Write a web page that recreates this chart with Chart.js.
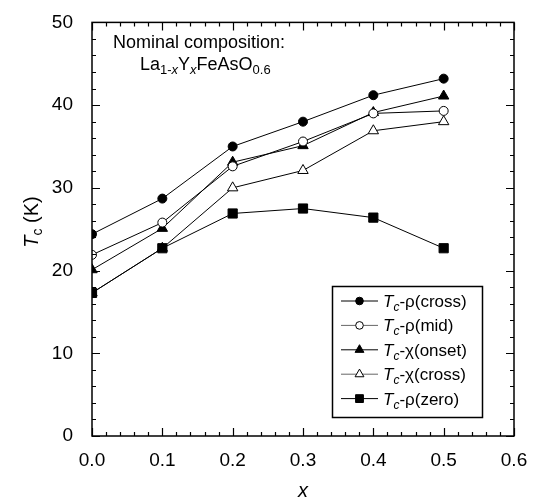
<!DOCTYPE html>
<html>
<head>
<meta charset="utf-8">
<script src="https://cdn.jsdelivr.net/npm/chart.js@4.4.1/dist/chart.umd.min.js"></script>
<style>
  html, body { margin: 0; padding: 0; background: #fff; }
  #wrap { width: 536px; height: 503px; }
</style>
</head>
<body>
<div id="wrap"><canvas id="grafico" width="536" height="503"></canvas></div>
<script>
// valores
const xValues = [0, 0.1, 0.2, 0.3, 0.4, 0.5];
const rhoCross = [24.4, 28.7, 35.0, 38.0, 41.2, 43.2];
const rhoMid = [21.9, 25.8, 32.6, 35.6, 39.0, 39.3];
const chiOnset = [20.1, 25.1, 33.1, 35.1, 39.1, 41.1];
const chiCross = [17.3, 22.7, 30.0, 32.1, 36.9, 38.0];
const rhoZero = [17.3, 22.7, 26.9, 27.5, 26.4, 22.7];

const nombres = ["ρ(cross)", "ρ(mid)", "χ(onset)", "χ(cross)", "ρ(zero)"];
const yTicks = [0, 10, 20, 30, 40, 50];
const xTicks = [0, 0.1, 0.2, 0.3, 0.4, 0.5, 0.6];

const FUENTE = '"Liberation Sans", Arial, sans-serif';

function puntos(ys) {
  return xValues.map((x, i) => ({ x: x, y: ys[i] }));
}

const estilos = [
  { pointStyle: "circle", pointRadius: 4.5, relleno: "#000" },
  { pointStyle: "circle", pointRadius: 4.5, relleno: "#fff" },
  { pointStyle: "triangle", pointRadius: 6, relleno: "#000" },
  { pointStyle: "triangle", pointRadius: 6, relleno: "#fff" },
  { pointStyle: "rect", pointRadius: 6.5, relleno: "#000" },
];

const series = [rhoCross, rhoMid, chiOnset, chiCross, rhoZero];

const datasets = series.map((ys, i) => ({
  label: "Tc-" + nombres[i],
  data: puntos(ys),
  borderColor: "#000",
  borderWidth: 1,
  pointStyle: estilos[i].pointStyle,
  pointRadius: estilos[i].pointRadius,
  pointHoverRadius: estilos[i].pointRadius,
  pointBackgroundColor: estilos[i].relleno,
  pointBorderColor: "#000",
  pointBorderWidth: 1,
  tension: 0,
  order: i === 4 ? 0 : i + 1,
}));

// texto con subindices
function textoRico(ctx, x, y, partes) {
  partes.forEach((p) => {
    ctx.font = (p.it ? "italic " : "") + p.size + "px " + FUENTE;
    ctx.fillText(p.t, x, y + (p.dy || 0));
    x += ctx.measureText(p.t).width;
  });
}

const marco = {
  id: "marco",
  afterDraw(chart) {
    const { ctx, chartArea: a, scales } = chart;
    const sx = scales.x;
    const sy = scales.y;
    ctx.save();
    ctx.strokeStyle = "#000";
    ctx.fillStyle = "#000";
    ctx.lineWidth = 1.5;
    ctx.strokeRect(a.left, a.top, a.right - a.left, a.bottom - a.top);

    // marcas hacia adentro
    ctx.lineWidth = 1.2;
    ctx.beginPath();
    for (let v = 0; v <= 50; v += 2) {
      const py = Math.round(sy.getPixelForValue(v)) + 0.5;
      const largo = v % 10 === 0 ? 8 : 4;
      ctx.moveTo(a.left, py);
      ctx.lineTo(a.left + largo, py);
      ctx.moveTo(a.right, py);
      ctx.lineTo(a.right - largo, py);
    }
    for (let i = 0; i <= 30; i++) {
      const px = Math.round(sx.getPixelForValue(i * 0.02)) + 0.5;
      const largo = i % 5 === 0 ? 8 : 4;
      ctx.moveTo(px, a.bottom);
      ctx.lineTo(px, a.bottom - largo);
      ctx.moveTo(px, a.top);
      ctx.lineTo(px, a.top + largo);
    }
    ctx.stroke();

    // titulo eje y
    ctx.save();
    ctx.translate(38, 222);
    ctx.rotate(-Math.PI / 2);
    ctx.textBaseline = "alphabetic";
    const partesY = [
      { t: "T", size: 20, it: true },
      { t: "c", size: 14, dy: 4 },
      { t: " (K)", size: 20 },
    ];
    let ancho = 0;
    partesY.forEach((p) => {
      ctx.font = (p.it ? "italic " : "") + p.size + "px " + FUENTE;
      ancho += ctx.measureText(p.t).width;
    });
    textoRico(ctx, -ancho / 2, 0, partesY);
    ctx.restore();

    // titulo eje x
    ctx.font = "italic 20px " + FUENTE;
    ctx.textAlign = "center";
    ctx.fillText("x", (a.left + a.right) / 2, 497);
    ctx.textAlign = "left";

    // composicion nominal
    ctx.font = "18px " + FUENTE;
    ctx.fillText("Nominal composition:", 113, 48);
    textoRico(ctx, 140, 70, [
      { t: "La", size: 18 },
      { t: "1-", size: 13, dy: 4 },
      { t: "x", size: 13, it: true, dy: 4 },
      { t: "Y", size: 18 },
      { t: "x", size: 13, it: true, dy: 4 },
      { t: "FeAsO", size: 18 },
      { t: "0.6", size: 13, dy: 4 },
    ]);

    // leyenda
    ctx.lineWidth = 1.5;
    ctx.strokeRect(332.5, 286.5, 150, 131);
    chart.data.datasets.forEach((ds, i) => {
      const yy = 301 + i * 24.4;
      ctx.beginPath();
      ctx.lineWidth = 1;
      ctx.strokeStyle = estilos[i].relleno === "#fff" ? "#666" : "#000";
      ctx.moveTo(341, yy);
      ctx.lineTo(378, yy);
      ctx.stroke();
      ctx.strokeStyle = "#000";
      ctx.fillStyle = estilos[i].relleno;
      Chart.helpers.drawPoint(ctx, {
        pointStyle: estilos[i].pointStyle,
        radius: estilos[i].pointRadius * 0.85,
        borderWidth: 1,
        rotation: 0,
      }, 359.5, yy);
      ctx.fillStyle = "#000";
      textoRico(ctx, 383, yy + 6, [
        { t: "T", size: 17, it: true },
        { t: "c", size: 12, it: true, dy: 4 },
        { t: "-" + nombres[i], size: 17 },
      ]);
    });
    ctx.restore();
  },
};

new Chart(document.getElementById("grafico"), {
  type: "line",
  data: { datasets },
  options: {
    responsive: false,
    animation: false,
    layout: { padding: { left: 0, right: 22, top: 13, bottom: 0 } },
    plugins: { legend: { display: false }, tooltip: { enabled: false } },
    scales: {
      x: {
        type: "linear",
        min: 0,
        max: 0.6,
        afterFit: (s) => { s.height = 67; },
        afterBuildTicks: (s) => { s.ticks = xTicks.map((v) => ({ value: v })); },
        grid: { display: false },
        border: { display: false },
        ticks: {
          padding: 5,
          color: "#000",
          font: { family: FUENTE, size: 19 },
          callback: (v) => Number(v).toFixed(1),
        },
      },
      y: {
        min: 0,
        max: 50,
        afterFit: (s) => { s.width = 92; },
        afterBuildTicks: (s) => { s.ticks = yTicks.map((v) => ({ value: v })); },
        grid: { display: false },
        border: { display: false },
        ticks: {
          padding: 11,
          color: "#000",
          font: { family: FUENTE, size: 19 },
        },
      },
    },
  },
  plugins: [marco],
});
</script>
</body>
</html>
